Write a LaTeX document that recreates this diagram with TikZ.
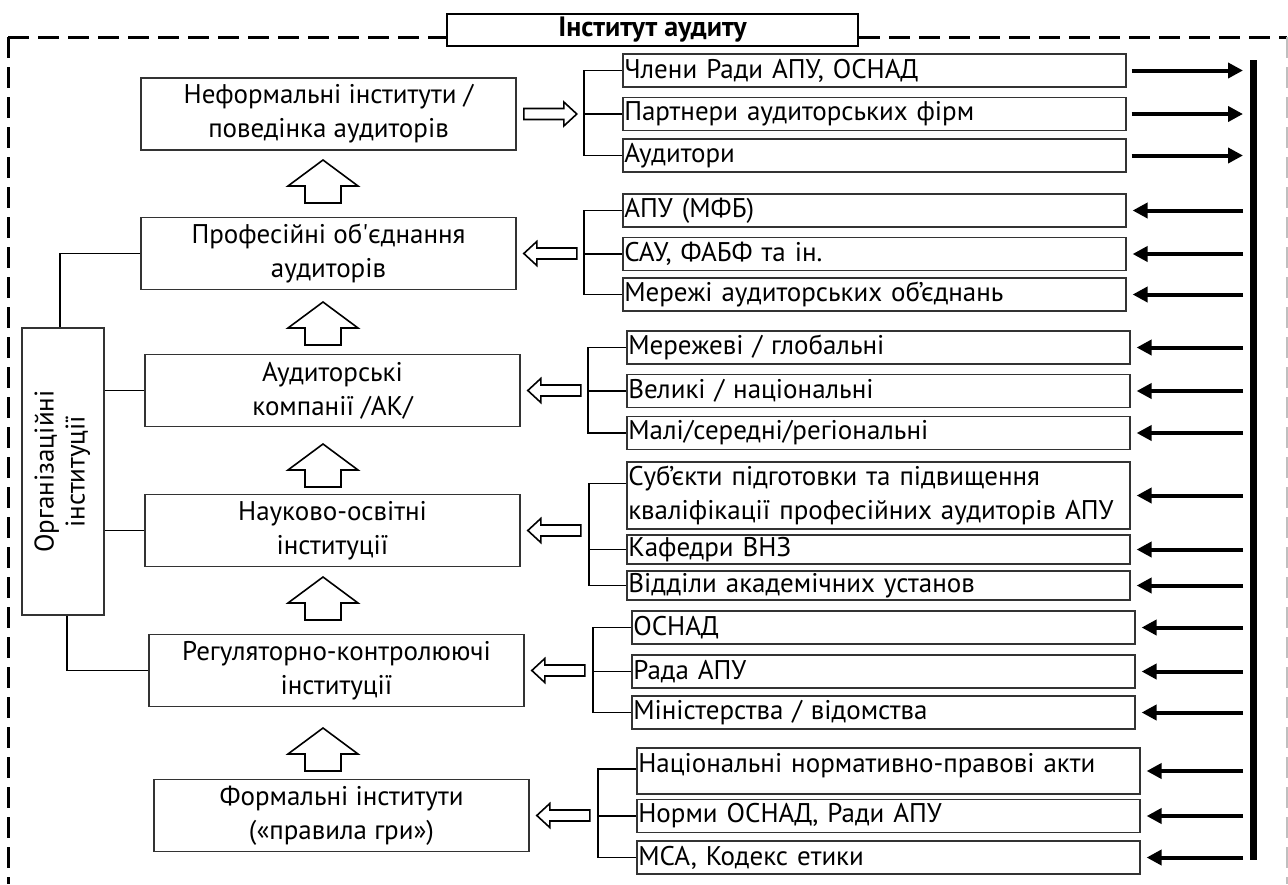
\documentclass[tikz,border=0pt]{standalone}
\usepackage{fontspec}
\setmainfont{PT Sans}
\usetikzlibrary{arrows.meta,calc}

\newcommand{\boxfont}{\fontsize{27}{34}\selectfont}

\tikzset{
  inst/.style={draw=black!80, line width=1.6pt, minimum width=375pt, minimum height=72pt, align=center, font=\boxfont, inner sep=2pt},
  item/.style={draw=black!80, line width=1.6pt, anchor=west, minimum height=33pt, text width=500pt, align=left, inner xsep=1.5pt, inner ysep=0pt, font=\boxfont},
  brace/.style={line width=1.9pt},
  feed/.style={line width=4pt, -{Triangle[length=15pt,width=15pt]}},
  frame/.style={line width=3pt, dash pattern=on 21pt off 9pt},
  hollowarrow/.pic={\draw[line width=1.6pt, fill=white] (0,0) -- (13,-12) -- (13,-5.5) -- (53,-5.5) -- (53,5.5) -- (13,5.5) -- (13,12) -- cycle;},
  uparrow/.pic={\draw[line width=1.6pt] (0,0) -- (35,26) -- (18,26) -- (18,43) -- (-18,43) -- (-18,26) -- (-35,26) -- cycle;}
}

\begin{document}
\begin{tikzpicture}[x=1pt,y=-1pt]
    \useasboundingbox (0,0) rectangle (1288,884);
    % dashed frame
    \coordinate (corner) at (8,37);
    \node[draw, line width=2.2pt, fill=white, minimum width=411pt, minimum height=32pt, inner sep=0pt, font=\fontsize{28}{30}\selectfont\bfseries] (title) at (652.5,30) {Інститут аудиту};
    \draw[frame] (corner) -- (corner -| title.west);
    \draw[frame] (corner) -- (8,884);
    \draw[frame] (corner -| title.east) -- (1287,37);
    \draw[frame, draw=black!25, line width=1.5pt] (1287,37) -- (1287,884);

    % left column
    \node[inst] (inf) at (328.5,114) {Неформальні інститути /\\поведінка аудиторів};
    \node[inst] (prof) at (328.5,253.5) {Професійні об\textquotesingle єднання\\аудиторів};
    \node[inst] (firms) at (332.5,390.5) {Аудиторські\\компанії /АК/};
    \node[inst] (edu) at (332.5,530.5) {Науково-освітні\\інституції};
    \node[inst] (reg) at (336.5,670.5) {Регуляторно-контролюючі\\інституції};
    \node[inst] (formal) at (341.5,815.5) {Формальні інститути\\(«правила гри»)};
    \node[draw=black!80, line width=1.6pt, minimum width=82pt, minimum height=287pt, inner sep=0pt, font=\fontsize{27}{31}\selectfont] (org) at (63,471.5)
        {\rotatebox{90}{\begin{tabular}{@{}c@{}}Організаційні\\інституції\end{tabular}}};

    \foreach \ty in {160,302,444,577,728}
        \pic at (323,\ty) {uparrow};

    \draw[brace] (prof.west) -| ([xshift=-3pt]org.north);
    \draw[brace] (org.east |- firms.west) -- (firms.west);
    \draw[brace] (org.east |- edu.west) -- (edu.west);
    \draw[brace] ([xshift=4pt]org.south) |- (reg.west);

    % right column
    \node[item] (m1) at (622,70.5) {Члени Ради АПУ, ОСНАД};
    \node[item] (m2) at (622,114) {Партнери аудиторських фірм};
    \node[item] (m3) at (622,155.5) {Аудитори};
    \node[item] (p1) at (622,210.5) {АПУ (МФБ)};
    \node[item] (p2) at (622,254) {САУ, ФАБФ та ін.};
    \node[item] (p3) at (622,294.5) {Мережі аудиторських об’єднань};
    \node[item] (c1) at (626,347.5) {Мережеві / глобальні};
    \node[item] (c2) at (626,391) {Великі / національні};
    \node[item] (c3) at (626,433) {Малі/середні/регіональні};
    \node[item, minimum height=67pt] (e1) at (626,495.5) {Суб’єкти підготовки та підвищення\\кваліфікації професійних аудиторів АПУ};
    \node[item, minimum height=29pt] (e2) at (626,549.5) {Кафедри ВНЗ};
    \node[item, minimum height=29pt] (e3) at (626,585.5) {Відділи академічних установ};
    \node[item] (r1) at (631,627.5) {ОСНАД};
    \node[item] (r2) at (631,671.5) {Рада АПУ};
    \node[item] (r3) at (631,712.5) {Міністерства / відомства};
    \node[item, minimum height=46pt, text depth=16pt] (f1) at (636,771) {Національні нормативно-правові акти};
    \node[item] (f2) at (636,816) {Норми ОСНАД, Ради АПУ};
    \node[item] (f3) at (636,857.5) {МСА, Кодекс етики};

    % brackets
    \foreach \a/\b/\c in {m1/m2/m3,p1/p2/p3,c1/c2/c3,r1/r2/r3}{
        \draw[brace] (\a.west) -- ++(-38,0) |- (\c.west);
        \draw[brace] (\b.west) -- ++(-38,0);
    }
    \draw[brace] ([yshift=12pt]e1.west) -- ++(-37,0) |- (e3.west);
    \draw[brace] (e2.west) -- ++(-37,0);
    \draw[brace] ([yshift=2pt]f1.west) -- ++(-38,0) |- (f3.west);
    \draw[brace] (f2.west) -- ++(-38,0);

    \pic[xscale=-1] at ([xshift=60pt]inf.east) {hollowarrow};
    \foreach \b in {prof,firms,edu,reg,formal}
        \pic at ([xshift=7pt]\b.east) {hollowarrow};

    % bar and feeds
    \coordinate (bar) at (1253,60);
    \coordinate (barend) at (1253,860);
    \coordinate (tail) at (1243,0);
    \draw[line width=7pt] (bar) -- (barend);
    \foreach \n in {m1,m2,m3}
        \draw[feed] ([xshift=5pt]\n.east) -- (tail |- \n.east);
    \foreach \n in {p1,p2,p3,c1,c2,c3,e1,e2,e3,r1,r2,r3,f1,f2,f3}
        \draw[feed] (tail |- \n.east) -- ([xshift=6pt]\n.east);
\end{tikzpicture}
\end{document}
